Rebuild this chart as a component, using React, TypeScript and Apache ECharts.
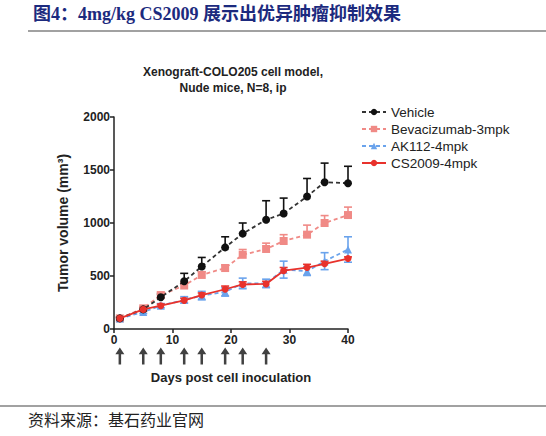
import { useEffect, useRef } from 'react';
import * as echarts from 'echarts';

const days = [1, 5, 8, 12, 15, 19, 22, 26, 29, 33, 36, 40];
const doseDays = [1, 5, 8, 12, 15, 19, 22, 26];

const vehicle = [100, 185, 300, 450, 590, 770, 900, 1030, 1090, 1250, 1385, 1375];
const vehicleErr = [10, 20, 30, 75, 85, 100, 100, 180, 145, 170, 180, 160];

const bevacizumab = [100, 195, 320, 410, 510, 575, 700, 755, 830, 890, 1000, 1075];
const bevacizumabErr = [10, 15, 25, 25, 30, 30, 50, 55, 60, 90, 70, 75];

const ak112 = [100, 160, 220, 275, 315, 350, 430, 430, 560, 545, 640, 750];
const ak112Err = [10, 15, 20, 30, 40, 40, 50, 40, 80, 40, 80, 120];

const cs2009 = [100, 185, 220, 270, 320, 375, 420, 425, 550, 580, 615, 665];
const cs2009Err = [10, 15, 15, 20, 20, 30, 25, 25, 30, 30, 25, 15];

const yTicks = [0, 500, 1000, 1500, 2000];

const sans = '"Liberation Sans", Arial, sans-serif';

const pair = (vals: number[]) => days.map((d, i) => [d, vals[i]]);
const triple = (vals: number[], errs: number[]) => days.map((d, i) => [d, vals[i], errs[i]]);

// 误差线：只画上方（AK112 上下都画）
const errorSeries = (data: number[][], color: string, both: boolean) => ({
  type: 'custom',
  xAxisIndex: 0,
  yAxisIndex: 0,
  data,
  z: 1,
  silent: true,
  renderItem: (_params: any, api: any) => {
    const x = api.value(0);
    const y = api.value(1);
    const e = api.value(2);
    const p = api.coord([x, y]);
    const top = api.coord([x, y + e]);
    const bot = api.coord([x, y - e]);
    const style = { stroke: color, lineWidth: 1.6 };
    const children: any[] = [
      { type: 'line', shape: { x1: p[0], y1: p[1], x2: top[0], y2: top[1] }, style },
      { type: 'line', shape: { x1: top[0] - 4, y1: top[1], x2: top[0] + 4, y2: top[1] }, style },
    ];
    if (both) {
      children.push({ type: 'line', shape: { x1: p[0], y1: p[1], x2: bot[0], y2: bot[1] }, style });
      children.push({ type: 'line', shape: { x1: bot[0] - 4, y1: bot[1], x2: bot[0] + 4, y2: bot[1] }, style });
    }
    return { type: 'group', children };
  },
});

const App = () => {
  const chartRef = useRef<HTMLDivElement>(null);

  useEffect(() => {
    if (!chartRef.current) return;
    const chart = echarts.init(chartRef.current, null as any, { renderer: 'svg' });

    const option: any = {
      animation: false,
      backgroundColor: '#fff',
      grid: [
        { left: 114, right: 198, top: 117, bottom: 107 },
        { left: 114, right: 198, top: 346, height: 20 },
      ],
      legend: {
        orient: 'vertical',
        left: 356,
        top: 100,
        itemGap: 3,
        itemWidth: 24,
        itemHeight: 8,
        textStyle: { fontFamily: sans, fontSize: 13.5, color: '#222' },
        data: ['Vehicle', 'Bevacizumab-3mpk', 'AK112-4mpk', 'CS2009-4mpk'],
      },
      xAxis: [
        {
          type: 'value',
          gridIndex: 0,
          min: 0,
          max: 40,
          interval: 10,
          name: 'Days post cell inoculation',
          nameLocation: 'middle',
          nameGap: 42,
          nameTextStyle: { fontFamily: sans, fontSize: 13, fontWeight: 'bold', color: '#222' },
          axisLine: { lineStyle: { color: '#222', width: 1.5 } },
          axisTick: { length: 4, lineStyle: { color: '#222', width: 1.5 } },
          axisLabel: { fontFamily: sans, fontSize: 12, fontWeight: 'bold', color: '#222', margin: 5 },
          splitLine: { show: false },
        },
        { type: 'value', gridIndex: 1, min: 0, max: 40, show: false },
      ],
      yAxis: [
        {
          type: 'value',
          gridIndex: 0,
          min: 0,
          max: 2000,
          interval: 500,
          name: 'Tumor volume (mm³)',
          nameLocation: 'middle',
          nameGap: 44,
          nameTextStyle: { fontFamily: sans, fontSize: 14, fontWeight: 'bold', color: '#222' },
          axisLine: { show: true, lineStyle: { color: '#222', width: 1.5 } },
          axisTick: { show: true, length: 4, lineStyle: { color: '#222', width: 1.5 } },
          axisLabel: {
            fontFamily: sans,
            fontSize: 12,
            fontWeight: 'bold',
            color: '#222',
            margin: 4,
            formatter: (v: number) => (yTicks.includes(v) ? String(v) : ''),
          },
          splitLine: { show: false },
        },
        { type: 'value', gridIndex: 1, min: 0, max: 1, show: false },
      ],
      series: [
        errorSeries(triple(vehicle, vehicleErr), '#111', false),
        errorSeries(triple(bevacizumab, bevacizumabErr), '#f08a86', false),
        errorSeries(triple(ak112, ak112Err), '#6aa3ec', true),
        errorSeries(triple(cs2009, cs2009Err), '#e8322c', false),
        {
          name: 'Vehicle',
          type: 'line',
          data: pair(vehicle),
          symbol: 'circle',
          symbolSize: 8,
          z: 4,
          itemStyle: { color: '#111' },
          lineStyle: { color: '#333', width: 1.8, type: [4, 3] },
        },
        {
          name: 'Bevacizumab-3mpk',
          type: 'line',
          data: pair(bevacizumab),
          symbol: 'rect',
          symbolSize: 8,
          z: 3,
          itemStyle: { color: '#f08a86' },
          lineStyle: { color: '#f08a86', width: 1.8, type: [4, 3] },
        },
        {
          name: 'AK112-4mpk',
          type: 'line',
          data: pair(ak112),
          symbol: 'triangle',
          symbolSize: 8,
          z: 3,
          itemStyle: { color: '#6aa3ec' },
          lineStyle: { color: '#6aa3ec', width: 1.8, type: [4, 3] },
        },
        {
          name: 'CS2009-4mpk',
          type: 'line',
          data: pair(cs2009),
          symbol: 'circle',
          symbolSize: 7,
          z: 5,
          itemStyle: { color: '#e8322c' },
          lineStyle: { color: '#e8322c', width: 1.8 },
        },
        {
          name: 'dosing',
          type: 'scatter',
          xAxisIndex: 1,
          yAxisIndex: 1,
          data: doseDays.map((d) => [d, 0.5]),
          symbol: 'path://M5,0 L10,8 L6.4,8 L6.4,20 L3.6,20 L3.6,8 L0,8 Z',
          symbolSize: [9, 17],
          itemStyle: { color: '#111' },
          silent: true,
        },
      ],
      graphic: [
        {
          type: 'text',
          left: 33,
          top: 5,
          style: {
            text: '图4：4mg/kg CS2009 展示出优异肿瘤抑制效果',
            font: 'bold 18px "Liberation Serif", "Noto Sans CJK SC", serif',
            fill: '#1c2a7e',
          },
        },
        {
          type: 'line',
          shape: { x1: 28, y1: 31, x2: 546, y2: 31 },
          style: { stroke: '#444', lineWidth: 1.2 },
        },
        {
          type: 'text',
          x: 233,
          y: 64,
          style: {
            text: 'Xenograft-COLO205 cell model,\nNude mice, N=8, ip',
            font: `bold 12px ${sans}`,
            fill: '#222',
            align: 'center',
            lineHeight: 16,
          },
        },
        {
          type: 'line',
          shape: { x1: 0, y1: 406, x2: 546, y2: 406 },
          style: { stroke: '#444', lineWidth: 1.2 },
        },
        {
          type: 'text',
          left: 28,
          top: 411,
          style: {
            text: '资料来源：基石药业官网',
            font: '16px "Noto Sans CJK SC", serif',
            fill: '#222',
          },
        },
      ],
    };

    chart.setOption(option);
    return () => chart.dispose();
  }, []);

  return <div ref={chartRef} style={{ position: 'fixed', left: 0, top: 0, width: 546, height: 436 }} />;
};

export default App;
